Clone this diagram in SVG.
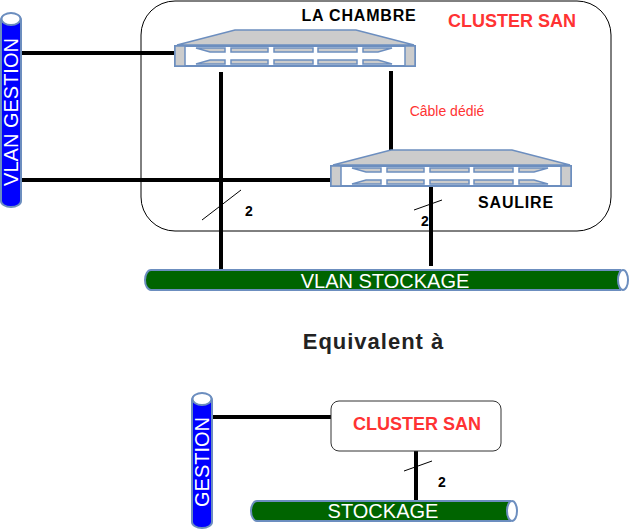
<svg xmlns="http://www.w3.org/2000/svg" width="633" height="532" viewBox="0 0 633 532">
<style>
text{font-family:"Liberation Sans",Arial,sans-serif}
.b{font-weight:bold}
.pipe{stroke:#6c8ebf;stroke-width:2}
.cap{fill:#fff;stroke:#6c8ebf;stroke-width:2}
.w{fill:#fff}
.k{stroke:#000;stroke-width:4;fill:none}
.k1{stroke:#000;stroke-width:1;fill:none}
.sv{fill:#ccc;stroke:#6c8ebf;stroke-width:1.500}
.box{fill:#fff;stroke:#000;stroke-width:1}
.name{font-size:16px;font-weight:bold;letter-spacing:.8px}
.red{fill:#ff3333;font-weight:bold;font-size:18px}
</style>
<defs>
<g id="server">
<path class="sv" d="M3 22L61 7H182L240 22Z"/>
<rect x="1" y="23" width="240" height="20" fill="#fff" stroke="#6c8ebf" stroke-width="2"/>
<rect class="sv" x="1" y="23" width="10" height="20"/>
<rect class="sv" x="231" y="23" width="10" height="20"/>
<path class="sv" d="M22 25H51V29H36ZM57 25H94V29H57ZM100 25H139V29H100ZM144 25H183V29H144ZM189 25H218L204 29H189Z"/>
<path class="sv" d="M22 41L36 37H51V41ZM57 37H94V41H57ZM100 37H139V41H100ZM144 37H183V41H144ZM189 37H204L218 41H189Z"/>
</g>
</defs>
<g id="cluster-frame"><rect class="box" x="141" y="1" width="470" height="230" rx="34" ry="34"/></g>
<g id="connectors">
<path class="k" d="M21 53H175"/>
<path class="k" d="M21 180H332"/>
<path class="k" d="M221 72V270"/>
<path class="k" d="M391 71V151"/>
<path class="k" d="M431 185V266"/>
<path class="k" d="M416 451V501"/>
<path class="k" d="M212 417H332"/>
<path class="k1" d="M202 220L241 190"/>
<path class="k1" d="M414 210L442 200"/>
<path class="k1" d="M404 471L432 461"/>
</g>
<g id="vlan-gestion">
<path d="M1 20A10 6 0 0 1 21 20V201A10 6 0 0 1 1 201Z" fill="#0000ff" class="pipe"/>
<ellipse class="cap" cx="11" cy="19" rx="9.500" ry="6"/>
<text class="w" font-size="20" text-anchor="middle" transform="translate(18,112) rotate(-90)">VLAN GESTION</text>
</g>
<g id="la-chambre">
<use href="#server" x="174" y="23"/>
<text class="name" x="359" y="21" text-anchor="middle">LA CHAMBRE</text>
</g>
<g id="cluster-label"><text class="red" x="512" y="27" text-anchor="middle">CLUSTER SAN</text></g>
<g id="cable-label"><text x="447" y="116" font-size="14" fill="#ff3333" text-anchor="middle">Câble dédié</text></g>
<g id="saulire">
<use href="#server" x="330" y="143"/>
<text class="name" x="516" y="208" text-anchor="middle">SAULIRE</text>
</g>
<g id="labels-2">
<text class="b" x="249" y="216" font-size="14" text-anchor="middle">2</text>
<text class="b" x="425" y="226" font-size="14" text-anchor="middle">2</text>
<text class="b" x="442" y="487" font-size="14" text-anchor="middle">2</text>
</g>
<g id="vlan-stockage">
<path d="M620 270H151A6 10 0 0 0 151 290H620Z" fill="#006400" class="pipe"/>
<ellipse class="cap" cx="623" cy="280" rx="5" ry="10"/>
<text class="w" x="385" y="288" font-size="20" text-anchor="middle">VLAN STOCKAGE</text>
</g>
<g id="title"><text class="b" x="373.500" y="349" fill="#222" text-anchor="middle" style="font-size:22px;letter-spacing:1px">Equivalent à</text></g>
<g id="gestion">
<path d="M192 400A10 6 0 0 1 212 400V522A10 6 0 0 1 192 522Z" fill="#0000ff" class="pipe"/>
<ellipse class="cap" cx="202" cy="399" rx="9.500" ry="6"/>
<text class="w" font-size="20" text-anchor="middle" transform="translate(209,462) rotate(-90)">GESTION</text>
</g>
<g id="cluster-san">
<rect x="331" y="401" width="170" height="50" rx="8" ry="8" fill="#fff" stroke="#333" stroke-width="1"/>
<text class="red" x="417" y="430" text-anchor="middle">CLUSTER SAN</text>
</g>
<g id="stockage">
<path d="M510 501H257A6 10 0 0 0 257 521H510Z" fill="#006400" class="pipe"/>
<ellipse class="cap" cx="512" cy="511" rx="5" ry="10"/>
<text class="w" x="383" y="518" font-size="20" text-anchor="middle">STOCKAGE</text>
</g>
</svg>
